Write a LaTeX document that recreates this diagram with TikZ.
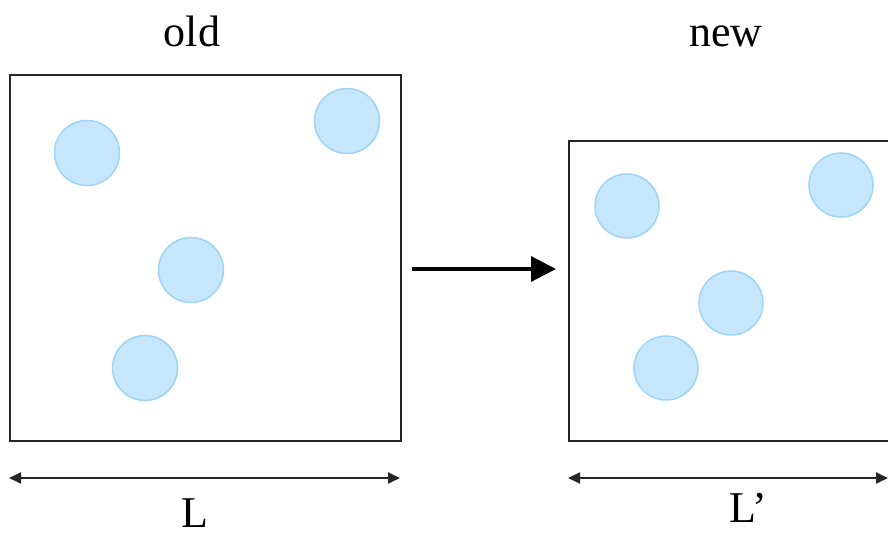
\documentclass[tikz,border=0pt]{standalone}
\usepackage{fontspec}
\setmainfont{Liberation Serif}
\usetikzlibrary{arrows.meta}
\definecolor{ballfill}{HTML}{C6E6FB}
\definecolor{ballline}{HTML}{9DD4F8}
\tikzset{
  ball/.style={circle, fill=ballfill, draw=ballline, line width=1.5pt, minimum size=65pt, inner sep=0pt},
  boxframe/.style={draw=black!85, line width=1.8pt},
  label/.style={font=\fontsize{44}{50}\selectfont, inner sep=0pt, anchor=base},
  dim/.style={draw=black!85, line width=1.8pt, {Triangle[length=12pt,width=11pt]}-{Triangle[length=12pt,width=11pt]}},
}
\begin{document}
\begin{tikzpicture}[x=1pt,y=-1pt]
\useasboundingbox (0,0) rectangle (888,534);
\node[boxframe, minimum width=391pt, minimum height=366pt, inner sep=0pt, anchor=north west] (old) at (9,74) {};
\node[boxframe, minimum width=330pt, minimum height=300pt, inner sep=0pt, anchor=north west] (new) at (568,140) {};
\node[ball] (a1) at (87,153) {};
\node[ball] (a2) at (347,121) {};
\node[ball] (a3) at (191,270) {};
\node[ball] (a4) at (145,368) {};
\node[ball, minimum size=64pt] (b1) at (627,206) {};
\node[ball, minimum size=64pt] (b2) at (841,185) {};
\node[ball, minimum size=64pt] (b3) at (731,303) {};
\node[ball, minimum size=64pt] (b4) at (666,368) {};
\node[label] (told) at (192,47) {old};
\node[label] (tnew) at (726,47) {new};
\coordinate (s) at (412,269);
\coordinate (e) at (556,269);
\draw[line width=3.2pt, -{Triangle[length=25pt,width=25pt]}] (s) -- (e);
\coordinate (d1) at (9,478);
\coordinate (d2) at (400,478);
\coordinate (d3) at (568,478);
\coordinate (d4) at (888,478);
\draw[dim] (d1) -- (d2);
\draw[dim] (d3) -- (d4);
\node[label] (tl) at (195,527) {L};
\node[label] (tlp) at (748,522) {L’};
\end{tikzpicture}
\end{document}
